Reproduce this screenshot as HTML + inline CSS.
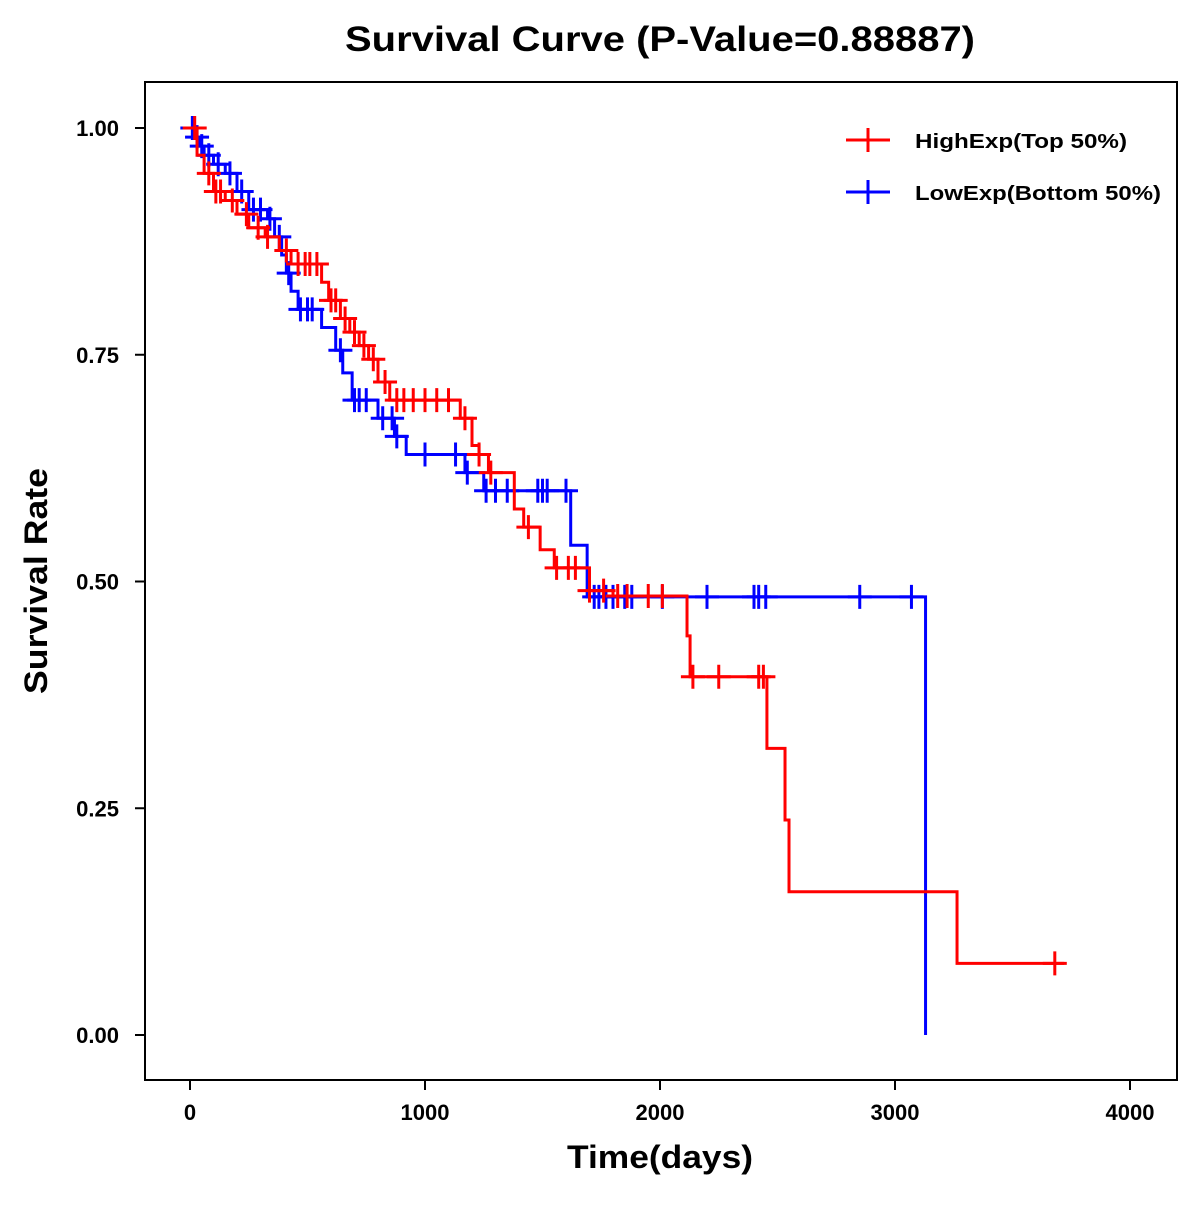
<!DOCTYPE html>
<html><head><meta charset="utf-8"><style>
body{margin:0;background:#fff;font-family:"Liberation Sans",Arial,sans-serif}
svg text{font-family:"Liberation Sans",Arial,sans-serif;font-weight:bold}
</style></head><body>
<svg id="chart" width="1200" height="1200" viewBox="0 0 1200 1200">
<rect width="1200" height="1200" fill="#fff"/>
<text x="660" y="51" font-size="35" text-anchor="middle" textLength="630" lengthAdjust="spacingAndGlyphs">Survival Curve (P-Value=0.88887)</text>
<rect x="145" y="82" width="1032" height="998" fill="none" stroke="#000" stroke-width="2"/>
<g id="axes"></g>
<g id="series"></g>
<text x="660" y="1168" font-size="32" text-anchor="middle" textLength="186" lengthAdjust="spacingAndGlyphs">Time(days)</text>
<text transform="translate(47,581) rotate(-90)" font-size="32" text-anchor="middle" textLength="226" lengthAdjust="spacingAndGlyphs">Survival Rate</text>
<g>
<g>
<path d="M846 140H890M868 128V152" stroke="#f00" stroke-width="3"/>
<text x="915" y="148" font-size="20" textLength="212" lengthAdjust="spacingAndGlyphs">HighExp(Top 50%)</text></g>
<g>
<path d="M846 192H890M868 180V204" stroke="#00f" stroke-width="3"/>
<text x="915" y="200" font-size="20" textLength="246" lengthAdjust="spacingAndGlyphs">LowExp(Bottom 50%)</text></g>
</g>
</svg>
<script>
const xTicks=[0,1000,2000,3000,4000];
const yTicks=[0,0.25,0.5,0.75,1];
const yTickLabels=["0.00","0.25","0.50","0.75","1.00"];
const highTimes=[0,30,60,100,150,200,250,320,380,430,560,590,640,680,720,760,800,850,1150,1200,1230,1270,1380,1420,1490,1550,1700,1800,2115,2128,2455,2532,2549,3264];
const highSurv=[1,0.97,0.95,0.93,0.92,0.905,0.89,0.88,0.865,0.85,0.83,0.81,0.79,0.775,0.76,0.745,0.72,0.70,0.68,0.65,0.64,0.62,0.58,0.56,0.535,0.515,0.49,0.484,0.44,0.395,0.316,0.237,0.158,0.079];
const highCensor=[20,80,110,130,180,240,290,330,410,460,490,510,540,600,620,660,700,740,780,830,880,910,950,1000,1050,1100,1170,1230,1280,1440,1560,1610,1640,1700,1760,1820,1860,1950,2010,2140,2250,2420,2440,3680];
const highEnd=3720;
const lowTimes=[0,20,40,60,100,150,200,250,330,360,390,410,430,460,560,620,650,690,800,870,920,1170,1250,1620,1690,3130];
const lowSurv=[1,0.99,0.98,0.97,0.96,0.95,0.93,0.91,0.90,0.88,0.86,0.84,0.82,0.80,0.78,0.755,0.73,0.70,0.68,0.66,0.64,0.62,0.60,0.54,0.483,0];
const lowCensor=[10,30,50,80,120,170,220,270,300,340,380,420,470,500,520,640,700,720,750,820,860,880,1000,1130,1180,1260,1300,1350,1480,1500,1520,1600,1720,1740,1770,1800,1850,1880,2010,2200,2400,2420,2450,2850,3070];
const lowEnd=3130;
const X=t=>190+t*0.235;
const Y=s=>1035-s*907;
const NS="http://www.w3.org/2000/svg";
const axes=document.getElementById('axes'),ser=document.getElementById('series');
function mk(tag,attrs,parent){const e=document.createElementNS(NS,tag);for(const k in attrs)e.setAttribute(k,attrs[k]);parent.appendChild(e);return e;}
xTicks.forEach(v=>{
 const l=mk('line',{x1:X(v),x2:X(v),y1:1080,y2:1090,stroke:'#000','stroke-width':2},axes);
 
 
 const t=mk('text',{x:X(v),y:1120,'font-size':22,'text-anchor':'middle'},axes);t.textContent=v;
 
 
});
yTicks.forEach((v,i)=>{
 const l=mk('line',{x1:135,x2:145,y1:Y(v),y2:Y(v),stroke:'#000','stroke-width':2},axes);
 
 
 const t=mk('text',{x:119,y:Y(v)+8,'font-size':22,'text-anchor':'end'},axes);t.textContent=yTickLabels[i];
 
 
});
function survAt(times,surv,t){let s=surv[0];for(let i=0;i<times.length;i++){if(times[i]<=t)s=surv[i];}return s;}
function draw(times,surv,censor,end,color,name){
 let d='M'+X(times[0])+' '+Y(surv[0]);
 for(let i=1;i<times.length;i++){d+='H'+X(times[i])+'V'+Y(surv[i]);}
 if(end>times[times.length-1])d+='H'+X(end);
 const p=mk('path',{d:d,fill:'none',stroke:color,'stroke-width':3},ser);
 
 
 censor.forEach(t=>{
  const s=survAt(times,surv,t);const x=X(t),y=Y(s);
  const c=mk('path',{d:`M${x-12} ${y}H${x+12}M${x} ${y-12}V${y+12}`,stroke:color,'stroke-width':3},ser);
  
  
 });
}
draw(lowTimes,lowSurv,lowCensor,lowEnd,'#00f','low-exp');
draw(highTimes,highSurv,highCensor,highEnd,'#f00','high-exp');
</script>
</body></html>
